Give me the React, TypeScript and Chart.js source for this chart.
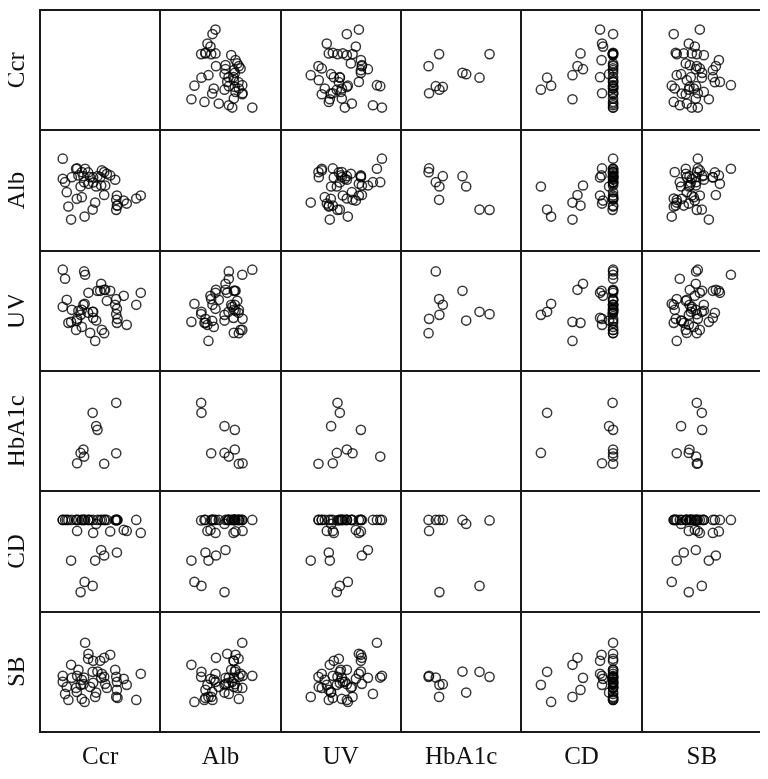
import React, { useEffect, useRef } from 'react';
import { Chart, registerables } from 'chart.js';

Chart.register(...registerables);

// Variable names (panel labels)
const variables = ['Ccr', 'Alb', 'UV', 'HbA1c', 'CD', 'SB'];

const ccr = [40.5, 52.5, 44.5, 55, 31, 64, 76.7, 61, 100.5, 86.5, 83.5, 70, 53, 37,
  64, 44, 76, 43.3, 57.3, 56, 76,
  96, 22.7, 22.7, 25, 26.7, 28.3, 31.7, 36, 38.3, 41.7, 45, 36.7, 41.7, 48.3, 50, 60, 65, 66.7, 75, 76.7, 77.3, 48, 61.7, 53];
const alb = [64, 41, 34, 48, 31, 55.5, 45, 65, 55, 47, 50, 75, 73, 82,
  78.3, 68.3, 50.7, 74.3, 74.3, 64, 40.7,
  52, 91.7, 71.7, 68.3, 58.3, 44, 73.3, 81.7, 75, 78.3, 81.7, 51.7, 53.3, 66.7, 73.3, 73.3, 65, 76.7, 70.7, 55, 45, 78, 80, 68];
const uv = [56, 59, 67, 30, 49, 81, 48, 87, 78, 46, 75, 80, 53, 52,
  37.7, 99.3, 71.7, 66, 80, 50.3, 56.7,
  66, 101, 64, 92, 71, 48, 61, 41, 60, 61, 96, 50, 44, 78, 38, 80, 81, 70, 66, 62, 52, 58, 41, 59];
const hba1c: (number | null)[] = [38.3, 78.3, null, null, null, null, null, null, null, null, null, null, null, 28,
  27.5, 34.7, 38, 41.7, 61.3, 65, 88.3,
  null, null, null, null, null, null, null, null, null, null, null, null, null, null, null, null, null, null, null, null, null, null, null, null];
const cd = [19.5, 25.7, 29.7, 51, 51, 56, 59, 61.5, 78.5, 80.5, 81.5, 80, 78.5, 80.5,
  91.5, 91.5, 91.5, 91.5, 91.5, 87.5, 91,
  91.5, 91.5, 91.5, 91.5, 91.5, 91.5, 91.5, 91.5, 91.5, 91.5, 91.5, 91.5, 91.5, 91.5, 91.5, 91.5, 91.5, 91.5, 91.5, 91.5, 91.5, 91.5, 91.5, 91.5];
const sb = [47, 60, 30, 35, 67, 74, 42, 54, 58, 47, 53, 77, 71, 56,
  55, 54.3, 35, 47.7, 60.3, 39.3, 55,
  32, 56, 50, 38, 45, 32, 54, 44, 62, 33, 89, 40, 52, 78, 45, 71, 48, 44, 62, 50, 34, 73, 58, 49];

const columns: (number | null)[][] = [ccr, alb, uv, hba1c, cd, sb];
const panelMin = 0;
const panelMax = 120;

const LINE = '#1a1a1a';
const FONT = { family: '"Liberation Serif", "Times New Roman", serif', size: 25, lineHeight: 0.72 };

const framePlugin = {
  id: 'frame',
  afterDraw(chart: any) {
    const { ctx, chartArea } = chart;
    ctx.save();
    ctx.strokeStyle = LINE;
    ctx.lineWidth = 2;
    ctx.strokeRect(chartArea.left, chartArea.top, chartArea.right - chartArea.left, chartArea.bottom - chartArea.top);
    ctx.restore();
  },
};

export default function App() {
  const ref = useRef<HTMLCanvasElement>(null);

  useEffect(() => {
    if (!ref.current) return;
    const n = variables.length;
    const datasets: any[] = [];
    for (let r = 0; r < n; r++) {
      for (let c = 0; c < n; c++) {
        if (r === c) continue;
        const pts: { x: number; y: number }[] = [];
        const xs = columns[c];
        const ys = columns[r];
        for (let k = 0; k < xs.length; k++) {
          const x = xs[k];
          const y = ys[k];
          if (x == null || y == null) continue;
          pts.push({ x, y });
        }
        datasets.push({
          type: 'scatter',
          data: pts,
          xAxisID: 'x' + c,
          yAxisID: 'y' + r,
          pointRadius: 4.6,
          pointBorderWidth: 1.5,
          pointBorderColor: 'rgba(0,0,0,0.78)',
          pointBackgroundColor: 'rgba(0,0,0,0)',
          showLine: false,
        });
      }
    }

    const scales: any = {};
    for (let i = 0; i < n; i++) {
      scales['x' + i] = {
        type: 'linear',
        position: 'bottom',
        stack: 'cols',
        stackWeight: 1,
        weight: i,
        min: panelMin,
        max: panelMax,
        ticks: { display: false, stepSize: 120 },
        grid: { color: LINE, lineWidth: 2, drawTicks: false },
        border: { display: false },
        title: { display: true, text: variables[i], color: '#111', font: FONT, padding: { top: 16, bottom: 0 } },
      };
      scales['y' + i] = {
        type: 'linear',
        position: 'left',
        stack: 'rows',
        stackWeight: 1,
        weight: n - i,
        min: panelMin,
        max: panelMax,
        ticks: { display: false, stepSize: 120 },
        grid: { color: LINE, lineWidth: 2, drawTicks: false },
        border: { display: false },
        title: { display: true, text: variables[i], color: '#111', font: FONT, padding: { top: 0, bottom: 14 } },
      };
    }

    const chart = new Chart(ref.current, {
      type: 'scatter',
      data: { datasets },
      options: {
        responsive: false,
        animation: false,
        events: [],
        layout: { autoPadding: false, padding: { left: 0, right: 2, top: 2, bottom: 4 } },
        plugins: { legend: { display: false }, tooltip: { enabled: false } },
        scales,
      },
      plugins: [framePlugin],
    });
    return () => chart.destroy();
  }, []);

  return (
    <div style={{ width: 756, height: 762 }}>
      <canvas ref={ref} width={756} height={762} style={{ display: 'block' }} />
    </div>
  );
}
